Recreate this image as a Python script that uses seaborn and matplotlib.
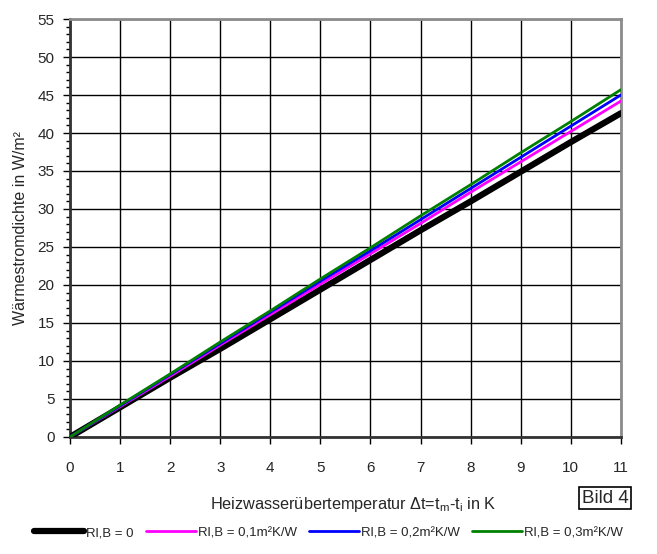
import numpy as np
import pandas as pd
import matplotlib
matplotlib.use('Agg')
import matplotlib.pyplot as plt
from matplotlib.ticker import MultipleLocator
import seaborn as sns

# values
dt = [0, 1, 2, 3, 4, 5, 6, 7, 8, 9, 10, 11]
q_r0 = [0, 3.9, 7.8, 11.6, 15.5, 19.4, 23.3, 27.2, 31.0, 34.9, 38.8, 42.6]
q_r01 = [0, 4.0, 8.0, 12.1, 16.1, 20.1, 24.1, 28.1, 32.2, 36.2, 40.2, 44.2]
q_r02 = [0, 4.1, 8.2, 12.3, 16.4, 20.5, 24.5, 28.6, 32.7, 36.8, 40.9, 45.0]
q_r03 = [0, 4.2, 8.3, 12.5, 16.6, 20.8, 24.9, 29.1, 33.2, 37.4, 41.5, 45.7]
labels = ['Rl,B = 0', 'Rl,B = 0,1m²K/W', 'Rl,B = 0,2m²K/W', 'Rl,B = 0,3m²K/W']
colors = ['#000000', '#ff00ff', '#0000ff', '#008000']
widths = [4.5, 2, 2, 2]

sns.set_style('white')
plt.rcParams['font.family'] = ['Liberation Sans', 'DejaVu Sans']
plt.rcParams['mathtext.fontset'] = 'custom'
plt.rcParams['mathtext.rm'] = 'Liberation Sans'
plt.rcParams['mathtext.it'] = 'Liberation Sans'

df = pd.DataFrame({'dt': dt * 4,
                   'q': q_r0 + q_r01 + q_r02 + q_r03,
                   'serie': sum([[l] * len(dt) for l in labels], [])})

fig = plt.figure(figsize=(6.57, 5.54), dpi=100)
ax = fig.add_axes([0.1065, 0.2112, 0.8385, 0.7545])

for lab, c, w in zip(labels, colors, widths):
    sns.lineplot(data=df[df['serie'] == lab], x='dt', y='q', color=c,
                 linewidth=w, label=lab, ax=ax, legend=False, zorder=3)

ax.set_xlim(0, 11)
ax.set_ylim(0, 55)
ax.xaxis.set_major_locator(MultipleLocator(1))
ax.yaxis.set_major_locator(MultipleLocator(5))
ax.yaxis.set_minor_locator(MultipleLocator(1))
ax.grid(True, which='major', color='black', linewidth=1)
ax.set_axisbelow(True)

for s in ['top', 'right']:
    ax.spines[s].set_color('#8c8c8c')
    ax.spines[s].set_linewidth(2)
for s in ['left', 'bottom']:
    ax.spines[s].set_color('#333333')
    ax.spines[s].set_linewidth(2)

ax.tick_params(axis='both', which='major', direction='out', length=5, width=1,
               color='black', labelsize=11, pad=6, left=True, bottom=True)
ax.tick_params(axis='y', which='minor', direction='out', length=3, width=1,
               color='black', left=True)
ax.tick_params(axis='x', pad=12)

ax.set_xlabel(r'Heizwasserübertemperatur $\Delta$t=t$_\mathrm{m}$-t$_\mathrm{i}$ in K',
              fontsize=11.7)
ax.xaxis.set_label_coords(0.515, -0.138)
ax.set_ylabel('Wärmestromdichte in W/m²', fontsize=11.5)
ax.yaxis.set_label_coords(-0.077, 0.5)

fig.text(0.921, 0.101, 'Bild 4', fontsize=13.5, ha='center', va='center',
         bbox=dict(boxstyle='square,pad=0.15', fc='white', ec='black', lw=1.2))

handles, hl = ax.get_legend_handles_labels()
fig.legend(handles, hl, loc='center', bbox_to_anchor=(0.5, 0.038), ncol=4,
           frameon=False, fontsize=9.5, handlelength=3.8, handletextpad=0.15,
           columnspacing=0.9)

fig.savefig('out.png', dpi=100)
